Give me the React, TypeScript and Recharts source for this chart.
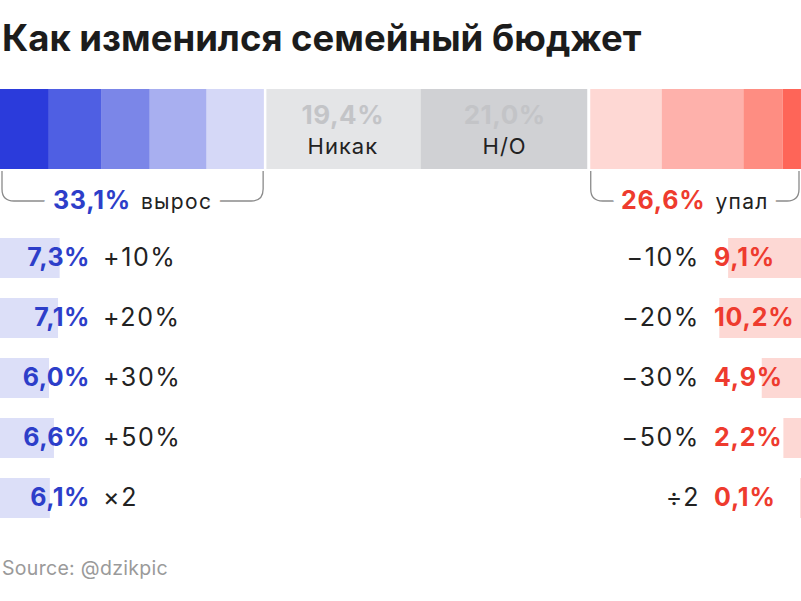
import React from 'react';
import { BarChart, Bar, XAxis, YAxis, LabelList, ReferenceLine } from 'recharts';

const FONT = 'Inter, "Noto Sans", sans-serif';
const W = 801;

// top stacked bar, left to right
const segKeys = ['x2', 'p50', 'p30', 'p20', 'p10', 'none', 'na', 'm10', 'm20', 'm30', 'm50', 'd2'];
const segValues = [6.1, 6.6, 6.0, 7.1, 7.3, 19.4, 21.0, 9.1, 10.2, 4.9, 2.2, 0.1];
const segColors = ['#2b3bdb', '#4f5fe3', '#7b86e8', '#a8aff0', '#d5d8f7', '#e4e5e7', '#d0d1d4', '#fed8d4', '#feb1ab', '#fe8d82', '#fe6558', '#fe4a3c'];
const segTitles: Record<string, string> = { none: 'Никак', na: 'Н/О' };

// brackets under the bar
const groupKeys = ['up', 'same', 'down'];
const groupValues = [33.1, 40.4, 26.5];
const groupTotals = ['33,1%', '', '26,6%'];
const groupNames = ['вырос', '', 'упал'];
const groupColors = ['#2d3ec9', '', '#ee3b2e'];

// rows
const upLabels = ['+10%', '+20%', '+30%', '+50%', '×2'];
const upValues = [7.3, 7.1, 6.0, 6.6, 6.1];
const downLabels = ['−10%', '−20%', '−30%', '−50%', '÷2'];
const downValues = [9.1, 10.2, 4.9, 2.2, 0.1];

const BLUE = '#2d3ec9';
const RED = '#ee3b2e';
const INK = '#222';

const fmt = (v: number) => v.toFixed(1).replace('.', ',') + '%';

const topData = [Object.fromEntries(segKeys.map((k, i) => [k, segValues[i]]))];
const groupData = [Object.fromEntries(groupKeys.map((k, i) => [k, groupValues[i]]))];
const upData = upLabels.map((label, i) => ({ label, value: upValues[i] }));
const downData = downLabels.map((label, i) => ({ label, value: downValues[i] }));

const cut1 = segValues.slice(0, 5).reduce((a, b) => a + b, 0);
const cut2 = segValues.slice(0, 7).reduce((a, b) => a + b, 0);

const segLabel = (title: string) => (p: any) => {
  const cx = p.x + p.width / 2;
  return (
    <g fontFamily={FONT}>
      <text x={cx} y={p.y + 35} textAnchor="middle" fill="#c3c4c7" fontSize={26} fontWeight={700} letterSpacing={0.5}>
        {fmt(p.value)}
      </text>
      <text x={cx} y={p.y + 65} textAnchor="middle" fill={INK} fontSize={22} letterSpacing={1}>
        {title}
      </text>
    </g>
  );
};

const bracketShape = (i: number) => (p: any) => {
  const { x, y, width } = p;
  const l = x + 2;
  const r = x + width - 2;
  const top = y + 2;
  const yl = y + 32;
  const rad = 12;
  const d = `M${l},${top} V${yl - rad} Q${l},${yl} ${l + rad},${yl} H${r - rad} Q${r},${yl} ${r},${yl - rad} V${top}`;
  return (
    <g fontFamily={FONT}>
      <path d={d} fill="none" stroke="#8a8a8a" strokeWidth={1.3} />
      <text
        x={x + width / 2}
        y={y + 40}
        textAnchor="middle"
        stroke="#fff"
        strokeWidth={20}
        strokeLinejoin="round"
        paintOrder="stroke"
      >
        <tspan fill={groupColors[i]} fontSize={25} fontWeight={700} letterSpacing={0.8}>{groupTotals[i]}</tspan>
        <tspan dx={10} fill={INK} fontSize={21} letterSpacing={1.3}>{groupNames[i]}</tspan>
      </text>
    </g>
  );
};

const upLabel = (p: any) => {
  const cy = p.y + p.height / 2 + 8;
  return (
    <g fontFamily={FONT} fontSize={25}>
      <text x={90} y={cy} textAnchor="end" fill={BLUE} fontWeight={700} letterSpacing={0.5}>{fmt(p.value)}</text>
      <text x={103} y={cy} fill={INK} letterSpacing={1.6}>{upLabels[p.index]}</text>
    </g>
  );
};

const downLabel = (p: any) => {
  const cy = p.y + p.height / 2 + 8;
  return (
    <g fontFamily={FONT} fontSize={25}>
      <text x={700} y={cy} textAnchor="end" fill={INK} letterSpacing={1.6}>{downLabels[p.index]}</text>
      <text x={714} y={cy} fill={RED} fontWeight={700} letterSpacing={0.8}>{fmt(p.value)}</text>
    </g>
  );
};

const noMargin = { top: 0, right: 0, bottom: 0, left: 0 };

export default function App() {
  return (
    <div style={{ position: 'relative', width: W, height: 601, background: '#fff', fontFamily: FONT }}>
      <style>{'body{margin:0}'}</style>
      <div style={{ position: 'absolute', left: 2, top: 14, fontSize: 36.5, fontWeight: 700, color: '#1c1c1c', lineHeight: '48px', whiteSpace: 'nowrap' }}>
        Как изменился семейный бюджет
      </div>

      <div style={{ position: 'absolute', left: 0, top: 89 }}>
        <BarChart width={W} height={80} data={topData} layout="vertical" margin={noMargin} barCategoryGap={0}>
          <XAxis type="number" domain={[0, 100]} hide />
          <YAxis type="category" hide />
          {segKeys.map((k, i) => (
            <Bar key={k} dataKey={k} stackId="a" fill={segColors[i]} isAnimationActive={false}>
              {segTitles[k] ? <LabelList dataKey={k} content={segLabel(segTitles[k])} /> : null}
            </Bar>
          ))}
          <ReferenceLine x={cut1} stroke="#fff" strokeWidth={2.5} />
          <ReferenceLine x={cut2} stroke="#fff" strokeWidth={3} />
        </BarChart>
      </div>

      <div style={{ position: 'absolute', left: 0, top: 169 }}>
        <BarChart width={W} height={50} data={groupData} layout="vertical" margin={noMargin} barCategoryGap={0}>
          <XAxis type="number" domain={[0, 100]} hide />
          <YAxis type="category" hide />
          {groupKeys.map((k, i) => (
            <Bar
              key={k}
              dataKey={k}
              stackId="g"
              fill="none"
              isAnimationActive={false}
              shape={groupTotals[i] ? bracketShape(i) : () => <g />}
            />
          ))}
        </BarChart>
      </div>

      <div style={{ position: 'absolute', left: 0, top: 228 }}>
        <BarChart width={W} height={300} data={upData} layout="vertical" margin={noMargin} barCategoryGap={10}>
          <XAxis type="number" domain={[0, 98]} hide />
          <YAxis type="category" dataKey="label" hide />
          <Bar dataKey="value" fill="#dcdff8" isAnimationActive={false}>
            <LabelList dataKey="value" content={upLabel} />
          </Bar>
        </BarChart>
      </div>

      <div style={{ position: 'absolute', left: 0, top: 228 }}>
        <BarChart width={W} height={300} data={downData} layout="vertical" margin={noMargin} barCategoryGap={10}>
          <XAxis type="number" domain={[0, 100]} reversed hide />
          <YAxis type="category" dataKey="label" hide />
          <Bar dataKey="value" fill="#fdd8d4" isAnimationActive={false}>
            <LabelList dataKey="value" content={downLabel} />
          </Bar>
        </BarChart>
      </div>

      <div style={{ position: 'absolute', left: 2, top: 556, fontSize: 19.5, color: '#9a9a9a', letterSpacing: 0.3 }}>
        Source: @dzikpic
      </div>
    </div>
  );
}
